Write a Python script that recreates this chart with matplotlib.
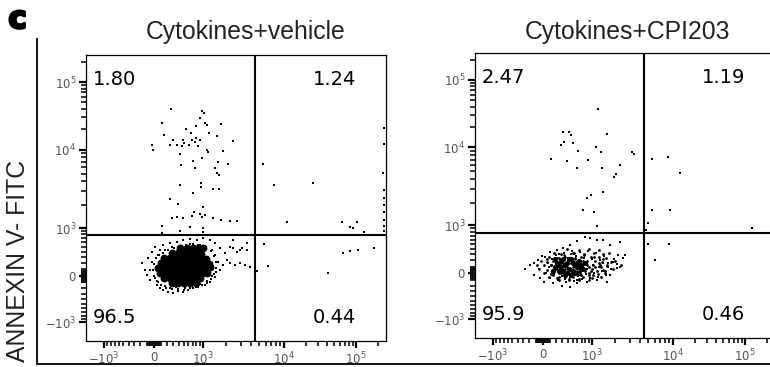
import numpy as np
import matplotlib
matplotlib.use("Agg")
import matplotlib.pyplot as plt
import matplotlib.patheffects as pe
from matplotlib.ticker import FixedLocator, FixedFormatter
from matplotlib.lines import Line2D

plt.rcParams['font.family'] = ['Liberation Sans', 'DejaVu Sans']

# ---- data (fluorescence units) ----
titles = ['Cytokines+vehicle', 'Cytokines+CPI203']
quad_labels = [['1.80', '1.24', '96.5', '0.44'], ['2.47', '1.19', '95.9', '0.46']]
tick_vals = [-1e3, 0, 1e3, 1e4, 1e5]
tick_labels = ['$-10^3$', '$0$', '$10^3$', '$10^4$', '$10^5$']
x_gate = 4470
y_gate = 780

# vehicle: scattered events
veh_x = [260, 970, 1030, 120, 900, 1070, 1130, 1710, 550, 790, 660, 150, 790, 1200, 1520, 2400, 300, 480, 500,
         690, 760, 900, 850, 370, 460, 610, 244, -30, -15, 1135, 1170, 1820, 421, 970, 710, 1570, 2090, 440,
         1435, 760, 1520, 1610, 420, 935, 935, 1350, 1610, 710, 244, 380, 1000, 735, 903, 686, 280, 366, 482,
         967, 1068, 1356, 1710, 2211, 2700, 119, 636, 1000, 1000, 119, 421,
         5600, 7600, 25500, 244000, 244000, 240000, 244000, 244000, 244000, 244000, 244000, 244000, 244000,
         11000, 64000, 82500, 103000, 90000, 129000,
         5740, 4730, 6430, 41200, 66000, 82500, 107000, 175000,
         -177, -131, -102, -87, -58, -29, 15, 44, 89, 134, 212, 295, 384, 481, 589, 708, 850, 1068, 1237, 1435,
         1660, 1815, 2033, 1918, 1660, 1435, 1237, 1000, 820, 636, 481, 366, 244, 134, 89,
         2211, 2547, 2934, 3376, 3884, 2700, 3120, 2211, 2413, 3570, 2413, 2934, 3570,
         -29, -58, 15, 59, 165, 244, 348, 523, 686, 903, 1130, 1316, 1480, 1570, 1435, 1316, 1068, 850, 636,
         421, 278, 165, 59,
         30, 0, -15, 0, 44, 104, 180, 278, 384, 502, 636, 792, 967, 1135, 1276, 1395, 1480, 1480, 1395, 1276,
         1097, 903, 708, 546, 421, 312, 212, 134, 74]
veh_y = [40000, 37000, 35000, 25000, 29000, 25000, 23000, 24000, 20000, 22000, 17500, 16500, 15000, 17500, 16000,
         13500, 14000, 14000, 12500, 13800, 13000, 13800, 11300, 11700, 11300, 11700, 11700, 11700, 9800, 9800,
         9300, 9600, 8800, 7900, 7200, 7000, 6600, 6400, 5900, 5900, 5100, 4800, 3600, 3830, 3400, 3200, 3200,
         2870, 2400, 2080, 1900, 1640, 1545, 1450, 1370, 1410, 1370, 1410, 1495, 1370, 1284, 1250, 1250, 1066,
         1030, 1000, 875, 840, 910,
         6600, 3600, 3830, 20900, 12100, 5100, 3121, 2450, 2015, 1640, 1284, 1066, 905,
         1220, 1220, 1030, 1220, 1000, 875,
         560, 76, 153, 45, 375, 413, 432, 474,
         201, 91, 15, 284, -63, 393, 494, -143, -193, -227, -262, -280, -244, -262, -227, -193, -176, -143, -95,
         -15, 91, 169, 250, 374, 473, 581, 654, 704, 654, 680, 654, 605, 581, 537, 432,
         201, 169, 201, 169, 137, 393, 473, 494, 654, 581, 473, 432, 432,
         217, 91, -31, -95, -160, -193, -176, -193, -160, -127, -79, 0, 60, 217, 337, 432, 515, 537, 560,
         515, 494, 432, 337,
         284, 184, 91, 0, -79, -143, -193, -210, -210, -227, -193, -176, -143, -111, -47, 30, 121, 217, 319, 413,
         494, 537, 560, 537, 515, 473, 432, 374, 337]

# vehicle: dense core of the main population
veh_core_x = [278, 384, 502, 636, 792, 935,
              149, 244, 348, 463, 589, 738, 903, 1097,
              104, 196, 295, 403, 523, 661, 820, 1000, 1200,
              59, 149, 244, 348, 463, 589, 738, 903, 1097, 1237,
              89, 180, 278, 384, 502, 636, 792, 967, 1130,
              149, 244, 348, 463, 589, 738, 903,
              278, 384, 502, 636, 792,
              421, 560, 700, 850, 1000]
veh_core_y = [380, 365, 390, 372, 385, 360,
              290, 280, 295, 278, 288, 282, 292, 275,
              205, 195, 210, 198, 204, 195, 208, 200, 190,
              125, 118, 128, 115, 122, 126, 117, 124, 119, 130,
              48, 40, 52, 44, 38, 50, 42, 47, 40,
              -28, -35, -25, -33, -30, -36, -27,
              -108, -115, -110, -105, -112,
              480, 470, 478, 465, 470]

# CPI203: scattered events
cpi_x = [1200, 313, 421, 463, 330, 278, 502, 1570, 1135, 1316, 613, 3200, 3376, 119, 875, 384, 589, 1356, 2280,
         2033, 1918, 850, 967, 1395, 738, 1068, 1170,
         5590, 8720, 12500, 5590, 9200, 5000, 4730, 125000,
         5000, 8950, 6070,
         -270, -193, -131, -73, -44, 30, 15, 104, 149, 295, 442, 589, 850, 1170, 1570, 1710, 2094, 2480, 2620,
         2280, 1710, 1395, 1170, 935, 792, 589, 442, 312, 212, 2150, 1866, 1615,
         -131, -58, -15, 44, 74, 104, 134, 165, 196, 228, 261, 295, 330, 366, 403, 442, 481, 523, 567, 613, 661,
         708, 761, 820, 877, 935, 1000, 1068, 1135, 1200, 1276, 1356, 1435, 1525, 1615, 1760, 1918, 2094, 2280,
         89, 180, 244, 348, 463, 589, 738, 850, 1034, 1237, 1395]
cpi_y = [36600, 16700, 16700, 15000, 11850, 10700, 11500, 15600, 10000, 8680, 8950, 8680, 8200, 7100, 6900, 6700,
         5480, 5480, 5980, 4620, 4230, 2300, 2520, 2740, 1610, 1520, 985,
         7100, 7500, 4750, 1610, 1610, 1080, 860, 930,
         505, 505, 209,
         60, 121, -31, 201, -79, 250, -143, 337, -160, -210, -227, -160, -143, -111, -143, -31, 76, 234, 284,
         537, 473, 581, 581, 630, 654, 560, 473, 413, 374, 284, 169, 91,
         153, 60, 267, 0, 153, -79, 217, -16, 284, -111, 169, -47, 319, -143, 233, -63, 356, -127, 267, -47, 337,
         -95, 233, -16, 356, -79, 217, 0, 319, -63, 201, 30, 267, -31, 153, 60, 217, 137, 91,
         91, 30, 301, -95, 301, -111, 121, 60, 121, 91, 153]

# CPI203: medium-density part of the main population
cpi_mid_x = [384, 636, 903, 1237,
             165, 278, 502, 761, 1068, 1395, 1660,
             89, 212, 348, 546, 686, 967, 1237, 1525,
             -29, 59, 149, 403, 850, 1097, 1356, 1975,
             -87, 15, 119, 708, 1034, 1276, 1570, 2345,
             -58, 59, 180, 792, 1000, 1395, 1866,
             15, 119, 244, 589, 903, 1200, 1480,
             89, 212, 348, 502, 738, 1000, 1316,
             244, 421, 636, 903,
             59, 119, 180, 244, 312, 384, 463, 546, 636, 738, 850, 967, 1097, 1237, 1395, 1570, 1760,
             149, 212, 278, 348, 421, 502, 589, 686, 792, 903, 1034, 1170, 1316, 1480,
             244, 421, 636, 903, 330, 523, 761, 1068]
cpi_mid_y = [400, 385, 395, 380,
             325, 310, 330, 315, 320, 305, 318,
             255, 245, 258, 240, 252, 248, 260, 242,
             190, 180, 188, 178, 186, 192, 176, 184,
             125, 118, 128, 115, 122, 127, 116, 124,
             62, 55, 66, 58, 64, 52, 60,
             5, -5, 8, -4, 3, -8, 4,
             -60, -68, -58, -66, -62, -70, -57,
             -108, -115, -105, -112,
             217, 121, 184, 233, 153, 91, 153, 217, 91, 184, 121, 30, 91, 153, 217, 121, 169,
             -31, 60, 0, 60, 0, 91, 30, -31, 30, 91, -31, 30, 91, 30,
             -63, -95, -95, -31, 284, 319, 284, 250]

# CPI203: densest part
cpi_core_x = [212, 278, 348, 421, 502, 589, 312, 463, 244, 384, 546, 636, 180, 686,
              180, 244, 312, 384, 421, 502, 546, 636, 738, 792, 149, 348, 463, 589, 278, 686]
cpi_core_y = [153, 91, 121, 60, 153, 91, 217, 217, 30, 0, 0, 184, 91, 60,
              217, 121, 30, 153, 217, 30, 121, 0, 60, 153, 30, -31, -31, 153, 184, 121]

# ---- biexponential-like axis scale ----
W = 500.0
x_tick_pos = [-50, 0, 49, 130, 202]
y_tick_pos = [-46, 0, 48, 126.5, 194]


def make_scale(pos):
    u_a = np.arcsinh(np.array(tick_vals) / W)
    p_a = np.array(pos, float)
    s_lo = (p_a[1] - p_a[0]) / (u_a[1] - u_a[0])
    s_hi = (p_a[-1] - p_a[-2]) / (u_a[-1] - u_a[-2])

    def fwd(v):
        u = np.arcsinh(np.asarray(v, float) / W)
        p = np.interp(u, u_a, p_a)
        p = np.where(u < u_a[0], p_a[0] + (u - u_a[0]) * s_lo, p)
        p = np.where(u > u_a[-1], p_a[-1] + (u - u_a[-1]) * s_hi, p)
        return p

    def inv(p):
        p = np.asarray(p, float)
        u = np.interp(p, p_a, u_a)
        u = np.where(p < p_a[0], u_a[0] + (p - p_a[0]) / s_lo, u)
        u = np.where(p > p_a[-1], u_a[-1] + (p - p_a[-1]) / s_hi, u)
        return W * np.sinh(u)
    return fwd, inv


fx, ix = make_scale(x_tick_pos)
fy, iy = make_scale(y_tick_pos)

minor = [s * k * 10 ** e for s in (-1, 1) for e in (1, 2) for k in range(1, 10)]
minor += [k * 10 ** e for e in (3, 4, 5) for k in range(2, 10)]

fig = plt.figure(figsize=(7.7, 3.67), dpi=100)
ax1 = fig.add_axes([86 / 770, 26 / 367, 300 / 770, 286 / 367])
ax2 = fig.add_axes([475 / 770, 29 / 367, 300 / 770, 285 / 367])

ax1.scatter(veh_x, veh_y, s=1.6, marker='s', c='black', linewidths=0)
ax1.scatter(veh_core_x, veh_core_y, s=32, marker='o', c='black', linewidths=0)
ax2.scatter(cpi_x, cpi_y, s=2.0, marker='s', c='black', linewidths=0)
ax2.scatter(cpi_mid_x, cpi_mid_y, s=4, marker='o', c='black', linewidths=0)
ax2.scatter(cpi_core_x, cpi_core_y, s=14, marker='o', c='black', linewidths=0)

for ax, title, ql, cx in zip([ax1, ax2], titles, quad_labels, [246, 628]):
    ax.set_xscale('function', functions=(fx, ix))
    ax.set_yscale('function', functions=(fy, iy))
    xlo, xhi = float(ix(-68)), float(ix(232))
    ylo, yhi = float(iy(-65)), float(iy(221))
    ax.set_xlim(xlo, xhi)
    ax.set_ylim(ylo, yhi)
    ax.axvline(x_gate, color='black', lw=1.5)
    ax.axhline(y_gate, color='black', lw=1.5)
    for axis, lo, hi in ((ax.xaxis, xlo, xhi), (ax.yaxis, ylo, yhi)):
        axis.set_major_locator(FixedLocator(tick_vals))
        axis.set_major_formatter(FixedFormatter(tick_labels))
        axis.set_minor_locator(FixedLocator([v for v in minor if lo <= v <= hi]))
    ax.tick_params(which='major', direction='out', length=5, width=1.6, labelsize=8.5,
                   labelcolor='#555555', pad=2)
    ax.tick_params(which='minor', direction='out', length=3.5, width=1.2, color='#111111')
    for sp in ax.spines.values():
        sp.set_linewidth(0.9)
    kw = dict(transform=ax.transAxes, fontsize=14, family='DejaVu Sans', va='baseline')
    ax.text(0.023, 0.895, ql[0], **kw)
    ax.text(0.757, 0.895, ql[1], **kw)
    ax.text(0.023, 0.063, ql[2], **kw)
    ax.text(0.757, 0.063, ql[3], **kw)
    fig.text(cx / 770, 1 - 39 / 367, title, fontsize=17.8, ha='center', va='baseline', color='#222222')

fig.text(0.011, 1 - 28 / 367, 'c', fontsize=22, fontweight='bold', va='baseline', family='DejaVu Sans',
         path_effects=[pe.withStroke(linewidth=2, foreground='black')])
fig.text(18 / 770, 1 - 261 / 367, 'ANNEXIN V- FITC', fontsize=17.8, rotation=90,
         ha='center', va='center', color='#222222')
fig.add_artist(Line2D([37 / 770, 37 / 770], [1 - 39 / 367, 1 - 364 / 367], color='black', lw=1.3))
fig.add_artist(Line2D([37 / 770, 1], [1 - 364 / 367, 1 - 364 / 367], color='black', lw=1.3))

fig.savefig('out.png', dpi=100)
